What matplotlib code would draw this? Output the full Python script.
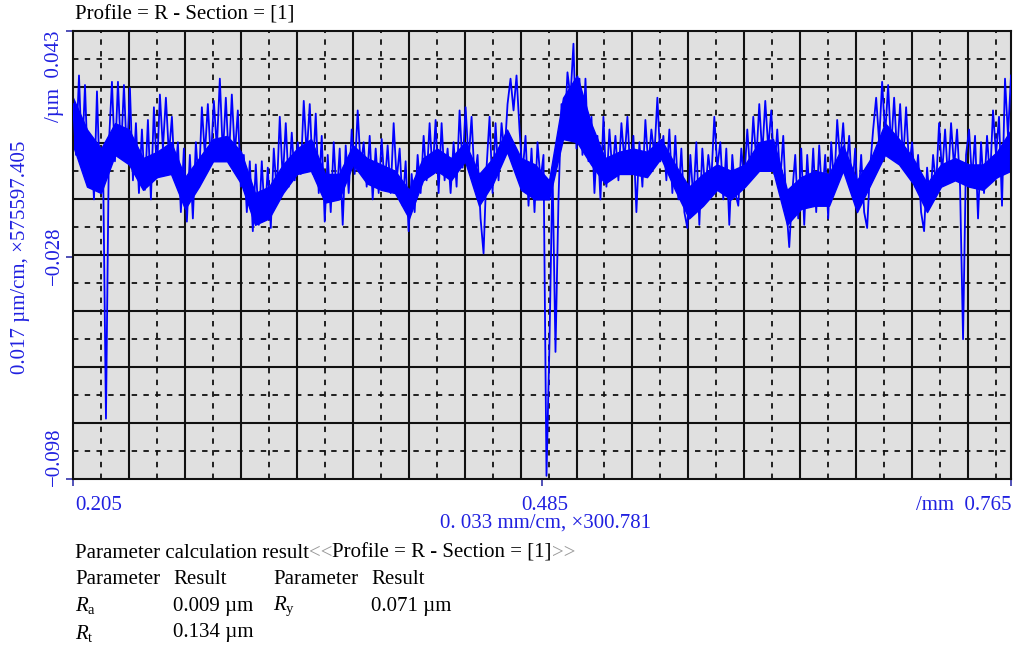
import numpy as np
import matplotlib
matplotlib.use("Agg")
import matplotlib.pyplot as plt

plt.rcParams['font.family'] = ['Liberation Serif', 'DejaVu Serif']
plt.rcParams['mathtext.fontset'] = 'custom'
plt.rcParams['mathtext.rm'] = 'Liberation Serif'
plt.rcParams['mathtext.it'] = 'Liberation Serif:italic'

# profile readings (um), equally spaced from 0.205 mm to 0.765 mm
profile_um = [
    # 0.205 - 0.345 mm
    0.020, 0.004, 0.029, 0.002, 0.026, -0.002, 0.010, -0.010, 0.024, -0.006,
    0.004, -0.079, 0.008, 0.027, 0.002, 0.027, 0.004, 0.026, 0.003, 0.025,
    -0.004, 0.014, -0.008, 0.012, -0.007, 0.015, -0.010, 0.019, -0.002, 0.023,
    0.006, 0.022, 0.004, 0.016, -0.004, 0.008, -0.014, 0.006, -0.017, 0.004,
    -0.016, 0.008, -0.006, 0.019, 0.004, 0.020, 0.002, 0.021, 0.006, 0.028,
    0.004, 0.022, 0.002, 0.023, 0.004, 0.018, -0.006, 0.004, -0.014, 0.002,
    -0.020, 0.001, -0.018, 0.002, -0.016, 0.000, -0.019, 0.006, -0.008, 0.016,
    -0.004, 0.014, -0.006, 0.011, -0.004, 0.008, -0.002, 0.021, 0.004,
    # 0.345 - 0.485 mm
    0.020, -0.002, 0.017, -0.008, 0.010, -0.017, 0.004, -0.014, 0.008, -0.010,
    0.006, -0.018, 0.007, -0.008, 0.012, -0.002, 0.018, 0.000, 0.008, -0.006,
    0.010, -0.010, 0.006, -0.008, 0.009, -0.006, 0.007, -0.008, 0.014, -0.004,
    0.006, -0.012, 0.002, -0.020, -0.002, -0.014, 0.004, -0.008, 0.010, -0.004,
    0.014, -0.002, 0.015, -0.008, 0.014, -0.004, 0.006, -0.008, 0.008, -0.006,
    0.018, 0.000, 0.019, 0.002, 0.016, -0.004, 0.004, -0.016, -0.027, 0.000,
    0.016, -0.008, 0.014, -0.004, 0.014, 0.004, 0.020, 0.028, 0.018, 0.029,
    0.012, -0.002, 0.010, -0.012, 0.006, -0.014, 0.008, -0.004,
    # 0.485 - 0.625 mm
    0.004, -0.097, -0.055, 0.000, -0.058, -0.010, 0.020, 0.010, 0.030, 0.022,
    0.039, 0.006, 0.028, 0.004, 0.028, 0.002, 0.016, -0.008, 0.010, -0.010,
    0.016, -0.006, 0.012, -0.002, 0.010, -0.004, 0.014, 0.002, 0.016, -0.002,
    0.010, -0.014, 0.008, -0.006, 0.015, 0.000, 0.012, 0.004, 0.022, 0.002,
    0.010, -0.004, 0.012, -0.008, 0.010, -0.010, 0.006, -0.014, -0.019, 0.004,
    -0.010, 0.008, -0.018, 0.006, -0.008, 0.004, -0.004, 0.016, 0.000, 0.008,
    -0.010, 0.006, -0.018, 0.004, -0.008, -0.012, 0.006, -0.004, 0.012, -0.002,
    0.016, 0.002, 0.020, 0.004, 0.021, 0.006, 0.018, -0.002,
    # 0.625 - 0.765 mm
    0.012, -0.004, 0.010, -0.012, -0.025, -0.008, 0.004, -0.016, 0.006, -0.018,
    0.004, -0.012, 0.006, -0.014, 0.007, -0.010, 0.004, -0.016, 0.008, -0.006,
    0.015, 0.002, 0.014, -0.002, 0.010, -0.008, 0.006, -0.012, 0.004, -0.014,
    -0.019, 0.000, 0.012, 0.022, 0.008, 0.027, 0.010, 0.026, 0.006, 0.022,
    0.004, 0.020, 0.002, 0.019, 0.000, 0.008, -0.006, 0.004, -0.014, -0.020,
    0.000, -0.012, 0.004, -0.006, 0.014, -0.002, 0.012, -0.004, 0.014, 0.000,
    0.012, -0.006, -0.054, 0.004, 0.012, -0.004, 0.010, -0.016, 0.008, -0.008,
    0.010, -0.004, 0.018, 0.004, 0.016, -0.012, 0.028, 0.010, 0.029,
]
x_mm = np.linspace(0.205, 0.765, len(profile_um))

# dense core of the trace (um), read every quarter cell
core_top_um = [
    0.022, 0.012, 0.006, 0.014, 0.012, 0.003, 0.005, 0.008, -0.003, 0.003,
    0.009, 0.010, 0.005, -0.008, -0.006, 0.001, 0.006,
    0.009, -0.002, -0.002, 0.007, 0.003, 0.001, -0.001, -0.007, 0.003, 0.006,
    0.003, 0.008, -0.002, 0.003, 0.012, 0.003, 0.001,
    -0.004, 0.022, 0.029, 0.014, 0.003, 0.005, 0.006, 0.005, 0.009, 0.001,
    -0.006, -0.002, 0.001, -0.001, 0.001, 0.008, 0.009,
    -0.007, -0.003, -0.001, -0.002, 0.007, -0.004, 0.003, 0.014, 0.009, 0.003,
    -0.005, 0.001, 0.003, 0.001, 0.001, 0.005, 0.012,
]
core_bot_um = [
    0.007, -0.006, -0.008, 0.004, 0.001, -0.007, -0.003, -0.002, -0.013, -0.006,
    0.002, 0.002, -0.005, -0.018, -0.016, -0.008, -0.002,
    -0.001, -0.011, -0.010, 0.001, -0.005, -0.007, -0.008, -0.016, -0.004, -0.001,
    -0.004, 0.002, -0.012, -0.005, 0.005, -0.007, -0.010,
    -0.010, 0.009, 0.008, 0.001, -0.005, -0.002, -0.002, -0.003, 0.003, -0.007,
    -0.016, -0.012, -0.007, -0.010, -0.006, -0.001, -0.001,
    -0.018, -0.013, -0.012, -0.012, -0.001, -0.014, -0.005, 0.004, 0.001, -0.005,
    -0.014, -0.006, -0.004, -0.006, -0.007, -0.003, -0.001,
]
x_core = np.linspace(0.205, 0.765, len(core_top_um))

x_ticks = [0.205, 0.485, 0.765]
y_ticks = [0.043, -0.028, -0.098]

W, H = 1014, 650
blue = '#2020e0'


def px(x, y):
    return x / W, 1 - y / H


fig = plt.figure(figsize=(W / 100, H / 100), dpi=100)
ax = fig.add_axes([73 / W, 1 - 479 / H, 938 / W, 448 / H])
ax.set_facecolor('#e0e0e0')
ax.set_xlim(x_ticks[0], x_ticks[-1])
ax.set_ylim(y_ticks[-1], y_ticks[0])

# grid: solid every cell, dashed at half cells
xcell = 0.0334
ycell = (y_ticks[0] - y_ticks[-1]) / 8
k = 1
while x_ticks[0] + k * xcell / 2 < x_ticks[-1]:
    xv = x_ticks[0] + k * xcell / 2
    if k % 2 == 0:
        ax.axvline(xv, color='#111111', lw=1.5, zorder=1)
    else:
        ax.axvline(xv, color='#111111', lw=1.3, ls=(0, (3, 3.5)), zorder=1)
    k += 1
for k in range(1, 16):
    yv = y_ticks[-1] + k * ycell / 2
    if k % 2 == 0:
        ax.axhline(yv, color='#111111', lw=1.5, zorder=1)
    else:
        ax.axhline(yv, color='#111111', lw=1.3, ls=(0, (3, 3.5)), zorder=1)

ax.fill_between(x_core, core_bot_um, core_top_um, color='#0000ff', lw=1.0,
                edgecolor='#0000ff', zorder=2)
ax.plot(x_mm, profile_um, color='#0000ff', lw=1.3, zorder=3)

for s in ax.spines.values():
    s.set_linewidth(1.5)
    s.set_color('#111111')
ax.set_xticks(x_ticks)
ax.set_yticks(y_ticks)
ax.set_xticklabels([])
ax.set_yticklabels([])
ax.tick_params(direction='out', length=5, width=1.2, color='#3333aa')

fs = 15
fig.text(*px(75, 15), 'Profile = R - Section = [1]', fontsize=fs, va='center', ha='left')

# y tick labels (rotated)
fig.text(*px(54, 31), '/\u00b5m  %.3f' % y_ticks[0], rotation=90, fontsize=fs, color=blue,
         ha='center', va='top')
fig.text(*px(54, 256), '\u2212%.3f' % -y_ticks[1], rotation=90, fontsize=fs, color=blue,
         ha='center', va='center')
fig.text(*px(54, 486), '\u2212%.3f' % -y_ticks[2], rotation=90, fontsize=fs, color=blue,
         ha='center', va='bottom')
fig.text(*px(21, 257), '0.017 \u00b5m/cm, \u00d7575597.405', rotation=90, fontsize=fs,
         color=blue, ha='center', va='center')

# x tick labels
fig.text(*px(75, 505), '%.3f' % x_ticks[0], fontsize=fs, color=blue, ha='left', va='center')
fig.text(*px(545, 505), '%.3f' % x_ticks[1], fontsize=fs, color=blue, ha='center', va='center')
fig.text(*px(1011, 505), '/mm  %.3f' % x_ticks[2], fontsize=fs, color=blue, ha='right', va='center')
fig.text(*px(545, 523), '0. 033 mm/cm, \u00d7300.781', fontsize=fs, color=blue,
         ha='center', va='center')

# parameter block
prev = fig.text(*px(75, 553), 'Parameter calculation result', fontsize=fs, va='center')
for piece, col in [('<<', '#999999'), ('Profile = R - Section = [1]', 'black'), ('>>', '#999999')]:
    prev = ax.annotate(piece, xy=(1, 0.5), xycoords=prev, va='center', ha='left',
                       fontsize=fs, color=col, annotation_clip=False)

cols = [75, 173, 273, 371]
rows = [580, 606, 633]
header = ['Parameter', 'Result', 'Parameter', 'Result']
for c, h in zip(cols, header):
    fig.text(*px(c, rows[0]), h, fontsize=fs, va='center')
fig.text(*px(cols[0], rows[1]), r'$R_\mathrm{a}$', fontsize=fs, va='center')
fig.text(*px(cols[1], rows[1]), '0.009 \u00b5m', fontsize=fs, va='center')
fig.text(*px(cols[2], rows[1]), r'$R_\mathrm{y}$', fontsize=fs, va='center')
fig.text(*px(cols[3], rows[1]), '0.071 \u00b5m', fontsize=fs, va='center')
fig.text(*px(cols[0], rows[2]), r'$R_\mathrm{t}$', fontsize=fs, va='center')
fig.text(*px(cols[1], rows[2]), '0.134 \u00b5m', fontsize=fs, va='center')

fig.savefig('out.png', dpi=100)
